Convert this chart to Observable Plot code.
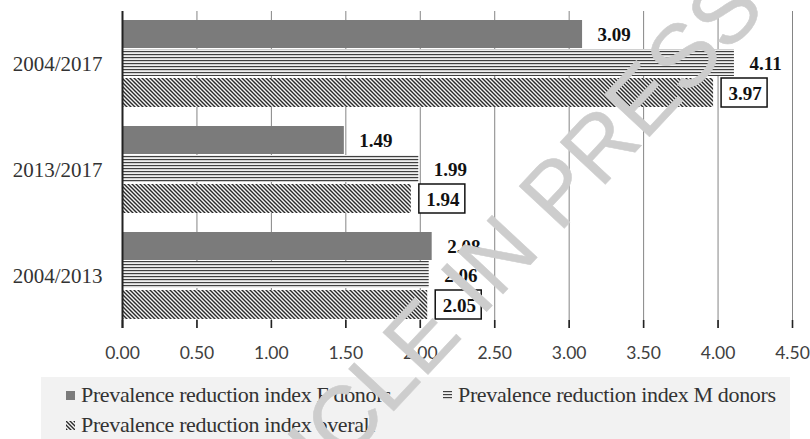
<!DOCTYPE html>
<html><head><meta charset="utf-8">
<script src="https://cdn.jsdelivr.net/npm/d3@7"></script>
<script src="https://cdn.jsdelivr.net/npm/@observablehq/plot@0.6"></script>
<style>
html,body{margin:0;padding:0;background:#fff;}
#wrap{position:relative;width:810px;height:439px;overflow:hidden;}
#chart svg{position:relative;z-index:2;overflow:visible;display:block;}
#legend{position:absolute;left:41px;top:377px;width:749px;height:62px;background:#f2f2f2;z-index:1;font-family:"Liberation Serif","Times New Roman",serif;font-size:22px;color:#333;letter-spacing:-0.35px;}
.item{position:absolute;white-space:nowrap;height:24px;line-height:24px;display:flex;align-items:center;}
.item svg{margin-right:6px;}
g[aria-label^="y-axis"] text{font-family:"Liberation Serif","Times New Roman",serif;font-size:21px;fill:#333;}
g[aria-label^="x-axis"] text{font-family:Lato,"Open Sans",sans-serif;font-size:17.5px;fill:#404040;}
</style>
</head><body>
<svg width="0" height="0" style="position:absolute">
  <defs>
    <pattern id="hstripe" patternUnits="userSpaceOnUse" width="4" height="3">
      <rect width="4" height="3" fill="#efefef"/>
      <rect y="0" width="4" height="1" fill="#404040"/>
      <rect y="1" width="4" height="1" fill="#d0d0d0"/>
    </pattern>
    <pattern id="diag" patternUnits="userSpaceOnUse" width="4" height="4">
      <rect width="4" height="4" fill="#f4f4f4"/>
      <path d="M-1,-1 L5,5 M-1,3 L1,5 M3,-1 L5,1" stroke="#2a2a2a" stroke-width="1.4"/>
    </pattern>
  </defs>
</svg>
<div id="wrap">
  <div id="chart"></div>
  <div id="legend"></div>
</div>
<script>
const categories = ["2004/2017", "2013/2017", "2004/2013"];
const seriesNames = ["Prevalence reduction index F donors", "Prevalence reduction index M donors", "Prevalence reduction index overall"];
const fDonors = [3.09, 1.49, 2.08];
const mDonors = [4.11, 1.99, 2.06];
const overall = [3.97, 1.94, 2.05];
const xTicks = [0, 0.5, 1, 1.5, 2, 2.5, 3, 3.5, 4, 4.5];
const watermark = "ARTICLE IN PRESS";

const rows = (vals) => categories.map((c, i) => ({category: c, value: vals[i]}));
const F = rows(fDonors), M = rows(mDonors), O = rows(overall);
const lastCat = categories[categories.length - 1];
const tickStubs = xTicks.map(t => ({x: t, category: lastCat}));
const fmt = d3.format(".2f");
const labelStyle = {fontFamily: "Liberation Serif, Times New Roman, serif", fontWeight: "bold", fontSize: 19, fill: "#111", textAnchor: "start", dx: 15};

const chart = Plot.plot({
  width: 810,
  height: 370,
  marginLeft: 122,
  marginRight: 18,
  marginTop: 11,
  marginBottom: 42,
  style: {background: "white", color: "#333", overflow: "visible"},
  x: {domain: [0, 4.5], ticks: xTicks, tickFormat: fmt, tickSize: 0, tickPadding: 18, label: null},
  y: {domain: categories, paddingInner: 0.18, paddingOuter: 0.085, tickSize: 0, tickPadding: 20, label: null},
  marks: [
    Plot.ruleX(xTicks, {stroke: "#858585", strokeWidth: 1}),
    Plot.tickX(tickStubs, {x: "x", y: "category", stroke: "#222", strokeWidth: 1.6, insetTop: 88, insetBottom: -9}),
    Plot.barX(F, {x: "value", y: "category", fill: "#7b7b7b", insetTop: 0, insetBottom: 59}),
    Plot.barX(M, {x: "value", y: "category", fill: "url(#hstripe)", insetTop: 29, insetBottom: 31}),
    Plot.barX(O, {x: "value", y: "category", fill: "url(#diag)", insetTop: 58, insetBottom: 0}),
    Plot.ruleX([0], {stroke: "#222", strokeWidth: 2}),
    Plot.barX(O, {x1: "value", x2: "value", y: "category", fill: "white", stroke: "#111", strokeWidth: 1.5, insetTop: 58, insetBottom: 0, insetLeft: 8, insetRight: -54}),
    Plot.text(F, {x: "value", y: "category", text: d => fmt(d.value), dy: -29.5, ...labelStyle}),
    Plot.text(M, {x: "value", y: "category", text: d => fmt(d.value), dy: 0, ...labelStyle}),
    Plot.text(O, {x: "value", y: "category", text: d => fmt(d.value), dy: 29.5, ...labelStyle}),
    Plot.text([watermark], {text: d => d, frameAnchor: "middle", dx: 8, dy: 122, rotate: -47, fontSize: 90, fontFamily: "Liberation Sans, Arial, sans-serif", fill: "#cdcdcd", stroke: "#cdcdcd", strokeWidth: 0.5, textAnchor: "middle", lineAnchor: "middle"})
  ]
});
document.getElementById("chart").appendChild(chart);

// Legend (HTML, below the SVG)
const swatchFills = ["#7b7b7b", "url(#hstripe)", "url(#diag)"];
const legendPos = [[25, 6], [402, 6], [25, 36]];
const legend = document.getElementById("legend");
seriesNames.forEach((name, i) => {
  const item = document.createElement("div");
  item.className = "item";
  item.style.left = legendPos[i][0] + "px";
  item.style.top = legendPos[i][1] + "px";
  item.innerHTML = `<svg width="9" height="9"><rect width="9" height="9" fill="${swatchFills[i]}"/></svg><span>${name}</span>`;
  legend.appendChild(item);
});
</script>
</body></html>
